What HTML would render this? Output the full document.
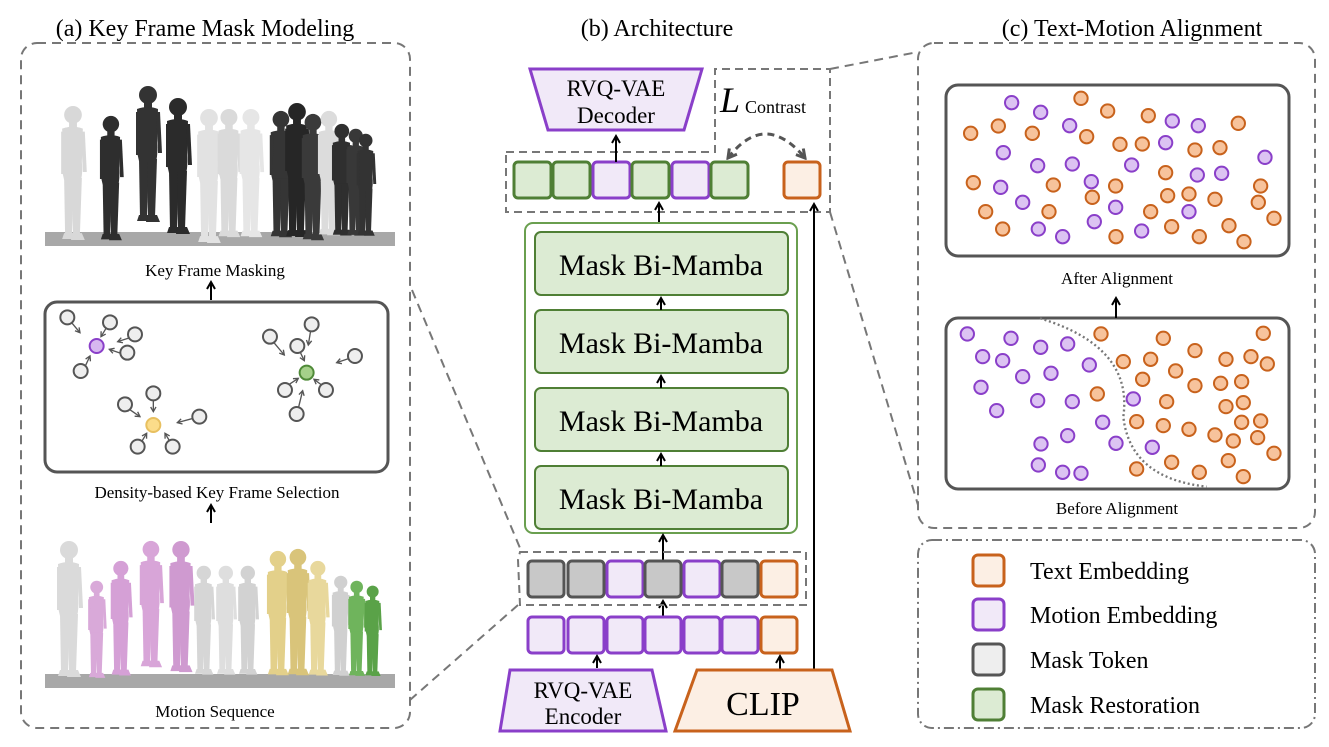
<!DOCTYPE html>
<html><head><meta charset="utf-8"><style>
html,body{margin:0;padding:0;background:#fff}
svg{display:block}
text{font-family:"Liberation Serif",serif;fill:#000}
</style></head><body>
<svg width="1329" height="747" viewBox="0 0 1329 747" xmlns="http://www.w3.org/2000/svg">
<defs>
<marker id="ah" viewBox="0 0 10 10" refX="8" refY="5" markerWidth="5" markerHeight="5" orient="auto"><path d="M1,1 L8,5 L1,9" fill="none" stroke="#000" stroke-width="2"/></marker>
<marker id="ahg" viewBox="0 0 10 10" refX="8" refY="5" markerWidth="5" markerHeight="5" orient="auto"><path d="M1,1 L8,5 L1,9" fill="none" stroke="#555" stroke-width="2"/></marker>
<marker id="ahd" viewBox="0 0 10 10" refX="8" refY="5" markerWidth="4" markerHeight="4" orient="auto-start-reverse"><path d="M1,1 L8,5 L1,9" fill="none" stroke="#555" stroke-width="2.5"/></marker>
<symbol id="fig" viewBox="0 0 40 140" overflow="visible">
<g fill="currentColor">
<circle cx="21" cy="10" r="9"/>
<rect x="17" y="17" width="8" height="8"/>
<path d="M10,24 Q21,20 31,24 L30,58 Q31,70 29,76 L12,76 Q9,66 11,56 Z"/>
<path d="M12,74 L22,74 L20,132 L13,132 Z"/>
<path d="M20,74 L30,74 L28,132 L21,132 Z"/>
<path d="M9,27 L13,27 L12,70 L9,70 Z"/>
<path d="M29,27 L33,27 L35,68 L31,68 Z"/>
<path d="M12,130 L22,130 L24,136 L10,136 Z"/>
<path d="M20,130 L30,130 L33,137 L19,137 Z"/>
</g>
</symbol>
</defs>

<text x="205" y="36" font-size="24" text-anchor="middle">(a) Key Frame Mask Modeling</text>
<text x="657" y="36" font-size="24" text-anchor="middle">(b) Architecture</text>
<text x="1132" y="36" font-size="24" text-anchor="middle">(c) Text-Motion Alignment</text>

<rect x="21" y="43" width="389" height="685" rx="16" fill="none" stroke="#777" stroke-width="2" stroke-dasharray="9,6"/>

<rect x="45" y="232" width="350" height="14" fill="#a8a8a8"/>
<g>
<use href="#fig" x="52" y="105" width="40" height="138" style="color:#d8d8d8"/>
<use href="#fig" x="90" y="115" width="40" height="128" style="color:#2e2e2e"/>
<use href="#fig" x="127" y="85" width="40" height="140" style="color:#333"/>
<use href="#fig" x="157" y="93" width="40" height="148" style="color:#2b2b2b"/>
<use href="#fig" x="188" y="108" width="40" height="138" style="color:#e2e2e2"/>
<use href="#fig" x="208" y="108" width="40" height="132" style="color:#dadada"/>
<use href="#fig" x="230" y="108" width="40" height="132" style="color:#e6e6e6"/>
<use href="#fig" x="260" y="110" width="40" height="130" style="color:#353535"/>
<use href="#fig" x="275" y="102" width="42" height="138" style="color:#262626"/>
<use href="#fig" x="292" y="113" width="40" height="130" style="color:#3a3a3a"/>
<use href="#fig" x="308" y="110" width="40" height="128" style="color:#dcdcdc"/>
<use href="#fig" x="320" y="123" width="42" height="115" style="color:#2f2f2f"/>
<use href="#fig" x="335" y="128" width="40" height="110" style="color:#383838"/>
<use href="#fig" x="345" y="133" width="40" height="105" style="color:#333"/>
</g>
<text x="215" y="276" font-size="17" text-anchor="middle">Key Frame Masking</text>
<line x1="211" y1="300" x2="211" y2="282" stroke="#000" stroke-width="2" marker-end="url(#ah)"/>

<rect x="45" y="302" width="343" height="170" rx="12" fill="#fff" stroke="#555" stroke-width="3"/>
<g transform="translate(40,290) scale(0.3333)" stroke-width="6">
<g stroke="#555" stroke-width="4" marker-end="url(#ahg)" fill="none">
<line x1="95" y1="98" x2="120" y2="128"/>
<line x1="200" y1="112" x2="183" y2="140"/>
<line x1="270" y1="143" x2="233" y2="155"/>
<line x1="243" y1="190" x2="208" y2="178"/>
<line x1="135" y1="230" x2="150" y2="198"/>
<line x1="702" y1="158" x2="733" y2="195"/>
<line x1="812" y1="122" x2="805" y2="165"/>
<line x1="780" y1="185" x2="793" y2="212"/>
<line x1="928" y1="205" x2="890" y2="218"/>
<line x1="745" y1="285" x2="775" y2="265"/>
<line x1="845" y1="285" x2="822" y2="268"/>
<line x1="775" y1="355" x2="788" y2="302"/>
<line x1="268" y1="358" x2="300" y2="380"/>
<line x1="340" y1="330" x2="340" y2="365"/>
<line x1="460" y1="385" x2="412" y2="398"/>
<line x1="305" y1="455" x2="320" y2="430"/>
<line x1="390" y1="455" x2="375" y2="430"/>
</g>
<g fill="#eee" stroke="#555">
<circle cx="82" cy="82" r="21"/><circle cx="210" cy="97" r="21"/><circle cx="285" cy="133" r="21"/><circle cx="262" cy="188" r="21"/><circle cx="122" cy="243" r="21"/>
<circle cx="690" cy="140" r="21"/><circle cx="815" cy="103" r="21"/><circle cx="772" cy="168" r="21"/><circle cx="945" cy="198" r="21"/><circle cx="735" cy="300" r="21"/><circle cx="858" cy="300" r="21"/><circle cx="770" cy="372" r="21"/>
<circle cx="255" cy="343" r="21"/><circle cx="340" cy="310" r="21"/><circle cx="478" cy="380" r="21"/><circle cx="293" cy="470" r="21"/><circle cx="398" cy="470" r="21"/>
</g>
<circle cx="170" cy="168" r="21" fill="#d7b8f0" stroke="#8a3fc9"/>
<circle cx="340" cy="405" r="21" fill="#fbdc8a" stroke="#e8c060"/>
<circle cx="800" cy="248" r="21" fill="#a5d08a" stroke="#4f8a38"/>
</g>
<text x="217" y="498" font-size="17" text-anchor="middle">Density-based Key Frame Selection</text>
<line x1="211" y1="523" x2="211" y2="505" stroke="#000" stroke-width="2" marker-end="url(#ah)"/>

<rect x="45" y="674" width="350" height="14" fill="#a8a8a8"/>
<g>
<use href="#fig" x="48" y="540" width="40" height="140" style="color:#dadada"/>
<use href="#fig" x="76" y="580" width="40" height="100" style="color:#d9a9d9"/>
<use href="#fig" x="100" y="560" width="40" height="118" style="color:#d5a0d6"/>
<use href="#fig" x="130" y="540" width="40" height="130" style="color:#d8a5d8"/>
<use href="#fig" x="160" y="540" width="40" height="135" style="color:#cf9ad0"/>
<use href="#fig" x="183" y="565" width="40" height="112" style="color:#d6d6d6"/>
<use href="#fig" x="205" y="565" width="40" height="112" style="color:#dedede"/>
<use href="#fig" x="227" y="565" width="40" height="112" style="color:#d2d2d2"/>
<use href="#fig" x="256" y="550" width="42" height="128" style="color:#e3d08a"/>
<use href="#fig" x="276" y="548" width="42" height="130" style="color:#d9c47a"/>
<use href="#fig" x="296" y="560" width="42" height="118" style="color:#e8d89c"/>
<use href="#fig" x="320" y="575" width="40" height="103" style="color:#d0d0d0"/>
<use href="#fig" x="336" y="580" width="40" height="98" style="color:#6fb45c"/>
<use href="#fig" x="352" y="585" width="40" height="93" style="color:#5aa248"/>
</g>
<text x="215" y="717" font-size="17" text-anchor="middle">Motion Sequence</text>

<g stroke="#777" stroke-width="2" stroke-dasharray="9,6" fill="none">
<line x1="412" y1="290" x2="520" y2="548"/>
<line x1="518" y1="605" x2="410" y2="700"/>
<line x1="830" y1="69" x2="918" y2="52"/>
<line x1="830" y1="212" x2="918" y2="505"/>
</g>

<polygon points="530,69 702,69 684,130 548,130" fill="#f1e9f8" stroke="#8a3fc9" stroke-width="3"/>
<text x="616" y="96" font-size="23" text-anchor="middle">RVQ-VAE</text>
<text x="616" y="123" font-size="23" text-anchor="middle">Decoder</text>

<polygon points="506,152 715,152 715,69 830,69 830,212 506,212" fill="none" stroke="#777" stroke-width="2" stroke-dasharray="8,5"/>
<text x="720" y="112" font-size="36" font-style="italic">L</text>
<text x="745" y="113" font-size="18">Contrast</text>
<path d="M728,158 Q765,110 805,158" fill="none" stroke="#555" stroke-width="3" stroke-dasharray="7,5" marker-start="url(#ahd)" marker-end="url(#ahd)"/>

<g stroke-width="3">
<rect x="514" y="162" width="37" height="36" rx="4" fill="#dcebd3" stroke="#4f7f35"/>
<rect x="553" y="162" width="37" height="36" rx="4" fill="#dcebd3" stroke="#4f7f35"/>
<rect x="593" y="162" width="37" height="36" rx="4" fill="#f1e9f8" stroke="#8a3fc9"/>
<rect x="632" y="162" width="37" height="36" rx="4" fill="#dcebd3" stroke="#4f7f35"/>
<rect x="672" y="162" width="37" height="36" rx="4" fill="#f1e9f8" stroke="#8a3fc9"/>
<rect x="711" y="162" width="37" height="36" rx="4" fill="#dcebd3" stroke="#4f7f35"/>
<rect x="784" y="162" width="36" height="36" rx="4" fill="#fcefe4" stroke="#c8621c"/>
</g>
<line x1="616" y1="162" x2="616" y2="136" stroke="#000" stroke-width="2" marker-end="url(#ah)"/>
<line x1="659" y1="223" x2="659" y2="203" stroke="#000" stroke-width="2" marker-end="url(#ah)"/>
<line x1="814" y1="670" x2="814" y2="204" stroke="#000" stroke-width="2" marker-end="url(#ah)"/>

<rect x="525" y="223" width="272" height="310" rx="8" fill="#fff" stroke="#6a9f4f" stroke-width="2"/>
<g fill="#dcebd3" stroke="#4f7f35" stroke-width="2">
<rect x="535" y="232" width="253" height="63" rx="6"/>
<rect x="535" y="310" width="253" height="63" rx="6"/>
<rect x="535" y="388" width="253" height="63" rx="6"/>
<rect x="535" y="466" width="253" height="63" rx="6"/>
</g>
<g font-size="30" text-anchor="middle">
<text x="661" y="275">Mask Bi-Mamba</text>
<text x="661" y="353">Mask Bi-Mamba</text>
<text x="661" y="431">Mask Bi-Mamba</text>
<text x="661" y="509">Mask Bi-Mamba</text>
</g>
<g stroke="#000" stroke-width="2" marker-end="url(#ah)">
<line x1="661" y1="310" x2="661" y2="298"/>
<line x1="661" y1="388" x2="661" y2="376"/>
<line x1="661" y1="466" x2="661" y2="454"/>
<line x1="663" y1="561" x2="663" y2="535"/>
<line x1="663" y1="617" x2="663" y2="601"/>
<line x1="597" y1="668" x2="597" y2="656"/>
<line x1="780" y1="670" x2="780" y2="656"/>
</g>

<path d="M520,552 L806,552 L806,605 L520,605 L518,560 Z" fill="none" stroke="#777" stroke-width="2" stroke-dasharray="8,5"/>
<g stroke-width="3">
<rect x="528" y="561" width="36" height="36" rx="4" fill="#c8c8c8" stroke="#555"/>
<rect x="568" y="561" width="36" height="36" rx="4" fill="#c8c8c8" stroke="#555"/>
<rect x="607" y="561" width="36" height="36" rx="4" fill="#f1e9f8" stroke="#8a3fc9"/>
<rect x="645" y="561" width="36" height="36" rx="4" fill="#c8c8c8" stroke="#555"/>
<rect x="684" y="561" width="36" height="36" rx="4" fill="#f1e9f8" stroke="#8a3fc9"/>
<rect x="722" y="561" width="36" height="36" rx="4" fill="#c8c8c8" stroke="#555"/>
<rect x="761" y="561" width="36" height="36" rx="4" fill="#fcefe4" stroke="#c8621c"/>
</g>
<g stroke-width="3">
<rect x="528" y="617" width="36" height="36" rx="4" fill="#f1e9f8" stroke="#8a3fc9"/>
<rect x="568" y="617" width="36" height="36" rx="4" fill="#f1e9f8" stroke="#8a3fc9"/>
<rect x="607" y="617" width="36" height="36" rx="4" fill="#f1e9f8" stroke="#8a3fc9"/>
<rect x="645" y="617" width="36" height="36" rx="4" fill="#f1e9f8" stroke="#8a3fc9"/>
<rect x="684" y="617" width="36" height="36" rx="4" fill="#f1e9f8" stroke="#8a3fc9"/>
<rect x="722" y="617" width="36" height="36" rx="4" fill="#f1e9f8" stroke="#8a3fc9"/>
<rect x="761" y="617" width="36" height="36" rx="4" fill="#fcefe4" stroke="#c8621c"/>
</g>

<polygon points="510,670 652,670 666,731 500,731" fill="#f1e9f8" stroke="#8a3fc9" stroke-width="3"/>
<text x="583" y="698" font-size="23" text-anchor="middle">RVQ-VAE</text>
<text x="583" y="724" font-size="23" text-anchor="middle">Encoder</text>
<polygon points="697,670 832,670 850,731 675,731" fill="#fcefe4" stroke="#c8621c" stroke-width="3"/>
<text x="763" y="715" font-size="34" text-anchor="middle">CLIP</text>

<rect x="918" y="43" width="397" height="485" rx="16" fill="none" stroke="#777" stroke-width="2" stroke-dasharray="9,6"/>
<rect x="946" y="85" width="343" height="171" rx="12" fill="#fff" stroke="#555" stroke-width="3"/>
<rect x="946" y="318" width="343" height="171" rx="12" fill="#fff" stroke="#555" stroke-width="3"/>
<text x="1117" y="284" font-size="17" text-anchor="middle">After Alignment</text>
<text x="1117" y="514" font-size="17" text-anchor="middle">Before Alignment</text>
<line x1="1116" y1="318" x2="1116" y2="298" stroke="#000" stroke-width="2" marker-end="url(#ah)"/>

<g transform="translate(920,70) scale(0.3333)" stroke-width="6">
<path d="M360,745 Q640,830 610,1040 Q630,1225 860,1250" fill="none" stroke="#777" stroke-width="7" stroke-dasharray="6,8"/>
<g fill="#dcc3f2" stroke="#8a3fc9">
<circle cx="275" cy="98" r="20"/><circle cx="362" cy="127" r="20"/><circle cx="449" cy="167" r="20"/><circle cx="250" cy="248" r="20"/><circle cx="353" cy="287" r="20"/><circle cx="457" cy="282" r="20"/><circle cx="635" cy="285" r="20"/><circle cx="737" cy="218" r="20"/><circle cx="757" cy="153" r="20"/><circle cx="835" cy="167" r="20"/><circle cx="1035" cy="262" r="20"/><circle cx="832" cy="315" r="20"/><circle cx="905" cy="310" r="20"/><circle cx="242" cy="352" r="20"/><circle cx="308" cy="397" r="20"/><circle cx="514" cy="335" r="20"/><circle cx="587" cy="412" r="20"/><circle cx="523" cy="455" r="20"/><circle cx="355" cy="477" r="20"/><circle cx="428" cy="500" r="20"/><circle cx="665" cy="483" r="20"/><circle cx="807" cy="425" r="20"/>
<circle cx="142" cy="792" r="20"/><circle cx="273" cy="805" r="20"/><circle cx="362" cy="832" r="20"/><circle cx="443" cy="822" r="20"/><circle cx="188" cy="860" r="20"/><circle cx="248" cy="872" r="20"/><circle cx="308" cy="920" r="20"/><circle cx="393" cy="910" r="20"/><circle cx="508" cy="885" r="20"/><circle cx="183" cy="952" r="20"/><circle cx="230" cy="1022" r="20"/><circle cx="353" cy="992" r="20"/><circle cx="457" cy="995" r="20"/><circle cx="640" cy="987" r="20"/><circle cx="548" cy="1057" r="20"/><circle cx="443" cy="1097" r="20"/><circle cx="363" cy="1122" r="20"/><circle cx="588" cy="1120" r="20"/><circle cx="697" cy="1132" r="20"/><circle cx="355" cy="1185" r="20"/><circle cx="428" cy="1207" r="20"/><circle cx="483" cy="1210" r="20"/>
</g>
<g fill="#f7c39c" stroke="#c8621c">
<circle cx="483" cy="85" r="20"/><circle cx="563" cy="123" r="20"/><circle cx="685" cy="137" r="20"/><circle cx="955" cy="160" r="20"/><circle cx="152" cy="190" r="20"/><circle cx="235" cy="168" r="20"/><circle cx="337" cy="190" r="20"/><circle cx="500" cy="200" r="20"/><circle cx="600" cy="223" r="20"/><circle cx="667" cy="222" r="20"/><circle cx="825" cy="240" r="20"/><circle cx="900" cy="233" r="20"/><circle cx="160" cy="338" r="20"/><circle cx="400" cy="345" r="20"/><circle cx="587" cy="348" r="20"/><circle cx="517" cy="382" r="20"/><circle cx="737" cy="308" r="20"/><circle cx="743" cy="377" r="20"/><circle cx="807" cy="372" r="20"/><circle cx="885" cy="388" r="20"/><circle cx="1022" cy="348" r="20"/><circle cx="1015" cy="397" r="20"/><circle cx="1062" cy="445" r="20"/><circle cx="197" cy="425" r="20"/><circle cx="387" cy="425" r="20"/><circle cx="692" cy="425" r="20"/><circle cx="248" cy="477" r="20"/><circle cx="588" cy="500" r="20"/><circle cx="755" cy="470" r="20"/><circle cx="838" cy="500" r="20"/><circle cx="927" cy="467" r="20"/><circle cx="972" cy="515" r="20"/>
<circle cx="543" cy="792" r="20"/><circle cx="730" cy="805" r="20"/><circle cx="1030" cy="790" r="20"/><circle cx="825" cy="842" r="20"/><circle cx="610" cy="875" r="20"/><circle cx="692" cy="868" r="20"/><circle cx="918" cy="868" r="20"/><circle cx="993" cy="860" r="20"/><circle cx="1042" cy="882" r="20"/><circle cx="767" cy="903" r="20"/><circle cx="668" cy="928" r="20"/><circle cx="825" cy="947" r="20"/><circle cx="902" cy="940" r="20"/><circle cx="965" cy="935" r="20"/><circle cx="532" cy="972" r="20"/><circle cx="740" cy="995" r="20"/><circle cx="918" cy="1010" r="20"/><circle cx="970" cy="998" r="20"/><circle cx="650" cy="1055" r="20"/><circle cx="730" cy="1067" r="20"/><circle cx="807" cy="1078" r="20"/><circle cx="885" cy="1095" r="20"/><circle cx="940" cy="1113" r="20"/><circle cx="965" cy="1057" r="20"/><circle cx="1022" cy="1053" r="20"/><circle cx="1013" cy="1103" r="20"/><circle cx="1062" cy="1150" r="20"/><circle cx="925" cy="1172" r="20"/><circle cx="755" cy="1177" r="20"/><circle cx="838" cy="1207" r="20"/><circle cx="650" cy="1197" r="20"/><circle cx="970" cy="1220" r="20"/>
</g>
</g>

<rect x="918" y="540" width="397" height="188" rx="14" fill="none" stroke="#777" stroke-width="2" stroke-dasharray="10,4,2,4"/>
<g stroke-width="3">
<rect x="973" y="555" width="31" height="31" rx="5" fill="#fcefe4" stroke="#c8621c"/>
<rect x="973" y="599" width="31" height="31" rx="5" fill="#f1e9f8" stroke="#8a3fc9"/>
<rect x="973" y="644" width="31" height="31" rx="5" fill="#eeeeee" stroke="#555"/>
<rect x="973" y="689" width="31" height="31" rx="5" fill="#dcebd3" stroke="#4f7f35"/>
</g>
<g font-size="24">
<text x="1030" y="579">Text Embedding</text>
<text x="1030" y="623">Motion Embedding</text>
<text x="1030" y="668">Mask Token</text>
<text x="1030" y="713">Mask Restoration</text>
</g>
</svg>
</body></html>
